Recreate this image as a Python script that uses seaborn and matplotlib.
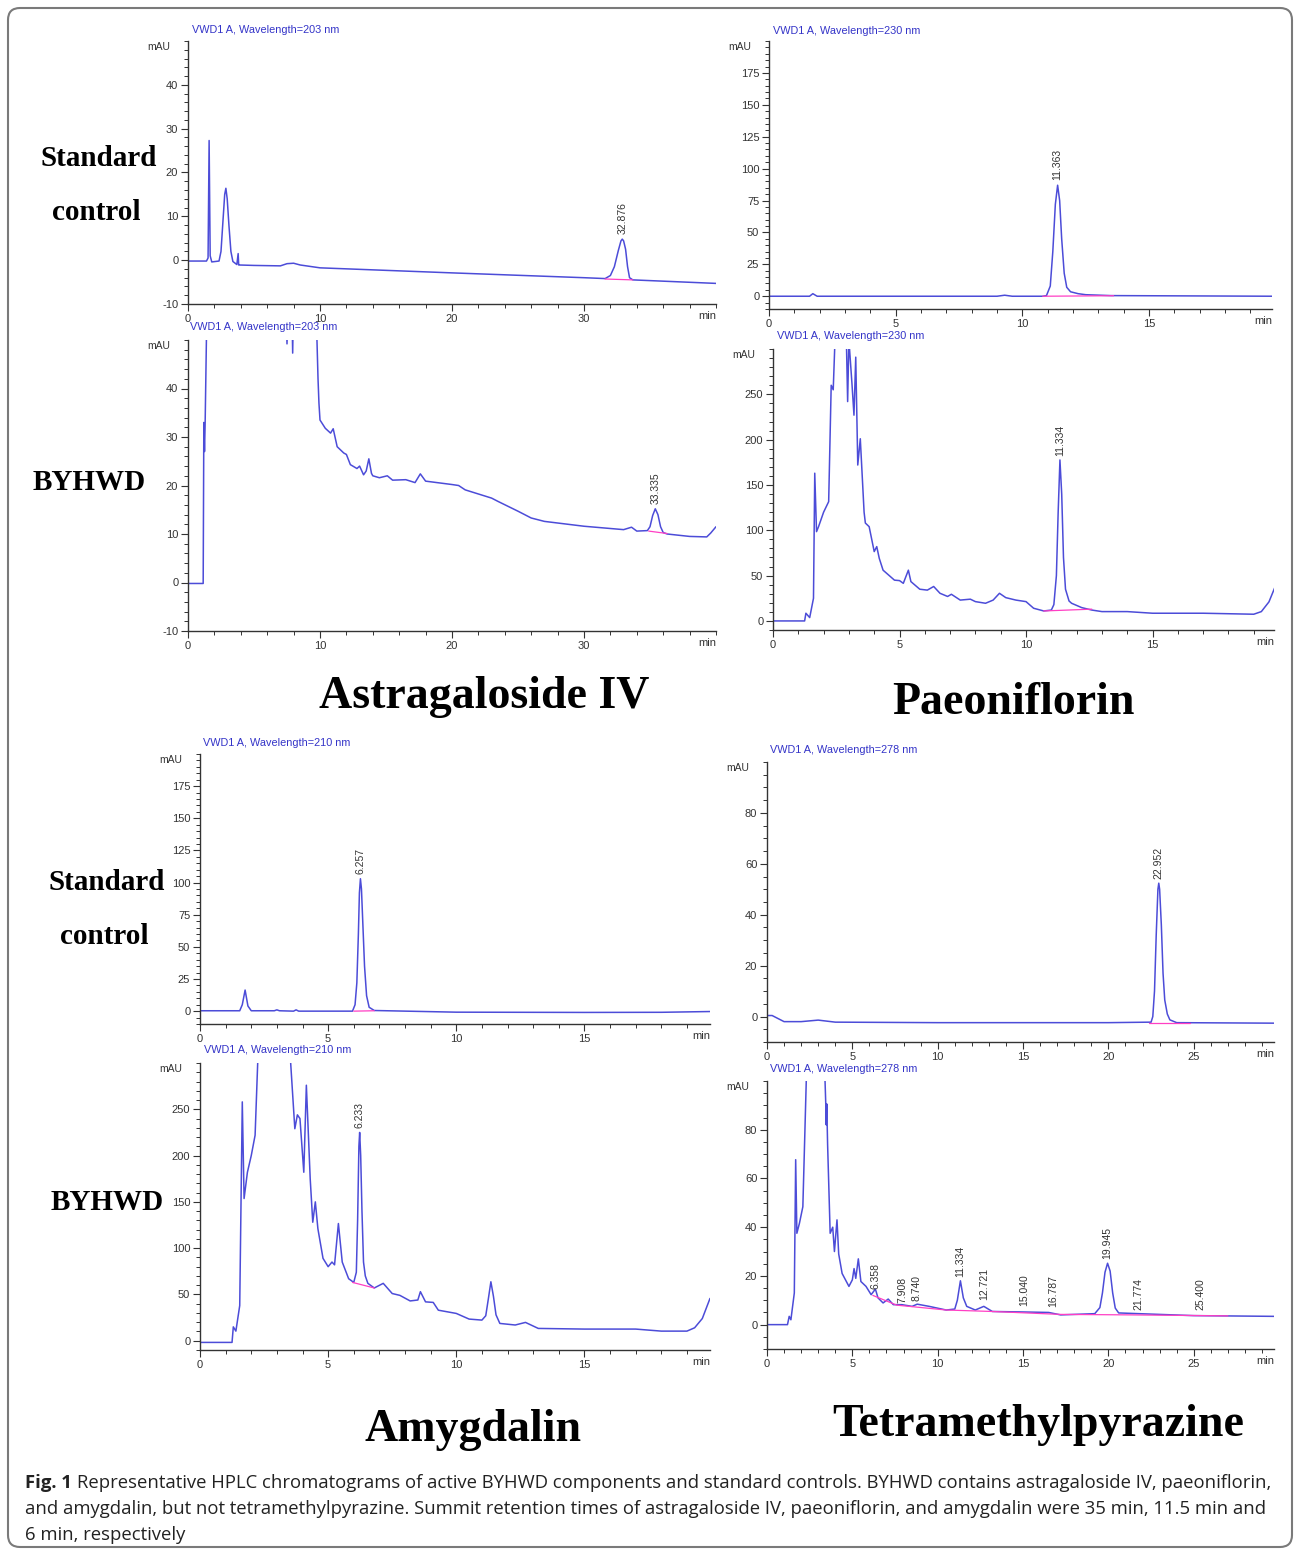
import numpy as np
import pandas as pd
import matplotlib
matplotlib.use("Agg")
import matplotlib.pyplot as plt
import seaborn as sns
from matplotlib.patches import FancyBboxPatch
from matplotlib.ticker import MultipleLocator

# ---- traced chromatogram data (time in min, signal in mAU) ----
# Astragaloside IV, standard
ast_std_t = [0, 1.4, 1.52, 1.6, 1.68, 1.8, 2.35, 2.5, 2.65, 2.78, 2.87, 2.97, 3.1, 3.25, 3.4, 3.7,
             3.8, 3.84, 3.88, 5.0, 7.0, 7.5, 8.0, 8.5, 10, 20, 30, 31.6, 32.0, 32.3, 32.6, 32.8,
             32.9, 33.0, 33.15, 33.3, 33.45, 33.7, 40]
ast_std_y = [-0.2, -0.2, 0.5, 27.3, 1.0, -0.4, -0.2, 2, 9, 15, 16.4, 14, 8, 2, -0.3, -1.0,
             1.5, -1.1, -1.1, -1.2, -1.3, -0.8, -0.7, -1.1, -1.75, -2.9, -4.0, -4.2, -3.5, -1.5, 2.2, 4.4,
             4.8, 4.4, 2.5, -1.5, -4.0, -4.5, -5.3]
# Astragaloside IV, BYHWD
ast_s_t = [0, 1.15, 1.2, 1.25, 1.3, 1.45, 7.4, 7.5, 7.6, 7.85, 7.93, 8.0, 9.77, 9.85, 9.92, 10.0, 10.4,
           10.8, 11.0, 11.3, 11.8, 12.0, 12.3, 12.8, 13.0, 13.3, 13.5, 13.7, 13.9, 14.0, 14.5, 15.1, 15.5,
           16.5, 17.2, 17.6, 18.0, 20.0, 20.5, 21.0, 23.0, 23.5, 25.0, 26.0, 27.0, 30.0, 33.0, 33.6, 34.0,
           34.8, 35.0, 35.2, 35.4, 35.6, 35.8, 36.0, 36.3, 38.0, 39.3, 39.6, 40.0]
ast_s_y = [-0.2, -0.2, 33, 27, 33, 60, 60, 49.2, 60, 60, 47.3, 60, 50, 42, 37, 33.5, 31.8,
           30.8, 31.7, 28, 26.7, 26.4, 24.3, 23.5, 24, 22.2, 23, 25.5, 22.5, 22, 21.6, 22, 21.1,
           21.2, 20.6, 22.4, 20.9, 20.2, 20, 19.1, 17.4, 16.7, 14.7, 13.3, 12.6, 11.6, 10.9, 11.4, 10.6,
           10.7, 11.5, 13.8, 15.2, 14.0, 11.5, 10.3, 10, 9.5, 9.4, 10.2, 11.5]
# Paeoniflorin, standard
pae_std_t = [0, 1.6, 1.73, 1.9, 9.0, 9.3, 9.6, 10.8, 10.95, 11.1, 11.2, 11.3, 11.39, 11.47, 11.55,
             11.65, 11.75, 11.9, 12.2, 12.5, 13.5, 20]
pae_std_y = [0, 0, 2, 0, 0, 0.8, 0, 0, 0.5, 8, 35, 72, 87, 75, 45,
             18, 7, 3.5, 2, 1.2, 0.5, 0]
# Paeoniflorin, BYHWD
pae_s_t = [0, 1.25, 1.3, 1.45, 1.6, 1.65, 1.72, 1.8, 2.0, 2.2, 2.3, 2.38, 2.45, 2.9, 2.95, 3.0, 3.05,
           3.12, 3.2, 3.27, 3.35, 3.45, 3.6, 3.65, 3.8, 4.0, 4.1, 4.2, 4.35, 4.8, 5.0, 5.15, 5.35, 5.45,
           5.8, 6.1, 6.35, 6.6, 6.9, 7.05, 7.4, 7.8, 8.0, 8.4, 8.7, 8.95, 9.2, 9.6, 10.0, 10.3, 10.7,
           11.0, 11.1, 11.2, 11.27, 11.34, 11.41, 11.48, 11.56, 11.7, 11.8, 12.2, 12.6, 13.0, 14.0,
           15.0, 17.0, 19.0, 19.3, 19.6, 19.9]
pae_s_y = [0, 0, 8.5, 3.7, 25, 163, 98.5, 104, 120, 131.6, 260, 255, 310, 310, 242, 310, 290,
           262, 227, 291, 172, 201, 120, 108, 104, 76.5, 82, 69, 56, 45, 44.5, 41.5, 56, 43.4,
           35, 34, 38, 30.5, 27, 29.4, 23, 24, 21.3, 19.5, 23, 30.5, 25.7, 23, 21.3, 14, 11,
           12, 18, 50, 120, 177.6, 140, 70, 35, 22, 19.5, 14.7, 12, 10.3, 10.3,
           8.5, 8.5, 7.4, 10.3, 21, 41.5]
# Amygdalin, standard
amy_std_t = [0, 1.55, 1.65, 1.76, 1.87, 2.0, 2.9, 3.0, 3.1, 3.65, 3.75, 3.85, 5.95, 6.05, 6.12, 6.18,
             6.22, 6.26, 6.30, 6.36, 6.42, 6.5, 6.6, 6.8, 10, 15, 18, 19.9]
amy_std_y = [0.3, 0.3, 5, 16.4, 4, 0.3, 0.3, 1.0, 0.3, 0, 1.0, 0, 0, 5, 22, 60,
             92, 103, 95, 65, 35, 12, 3, 0.5, -0.8, -1, -0.9, -0.3]
# Amygdalin, BYHWD
amy_s_t = [0, 1.25, 1.3, 1.4, 1.55, 1.65, 1.72, 1.85, 2.0, 2.15, 2.25, 2.3, 3.5, 3.54, 3.7, 3.8, 3.9,
           4.05, 4.15, 4.3, 4.4, 4.5, 4.6, 4.8, 5.0, 5.15, 5.25, 5.4, 5.55, 5.8, 6.0, 6.1, 6.15, 6.2,
           6.23, 6.27, 6.32, 6.38, 6.45, 6.55, 6.8, 7.15, 7.5, 7.8, 8.2, 8.5, 8.6, 8.8, 9.1, 9.3, 10.0,
           10.5, 11.0, 11.15, 11.25, 11.35, 11.45, 11.55, 11.7, 12.3, 12.7, 13.2, 15.0, 17.0, 18.0,
           19.0, 19.3, 19.6, 19.9]
amy_s_y = [-1.8, -1.8, 15, 10.4, 38, 258, 153.6, 182, 200, 222, 299, 330, 330, 299, 229, 244, 240,
           182, 276, 175, 128, 150, 121, 89, 80, 85, 82, 126.6, 85, 67, 63, 74, 130, 210,
           225, 200, 140, 85, 70, 62, 57, 62, 51, 49, 43, 44, 53, 42, 41.4, 33, 29.5,
           23.4, 22.3, 27, 45, 63.7, 48, 28, 18.7, 17, 19.8, 13.3, 12.6, 12.6, 10.4,
           10.4, 14, 24, 45.7]
# Tetramethylpyrazine, standard
tmp_std_t = [0, 0.3, 1.0, 2.0, 3.0, 4.0, 10, 20, 22.5, 22.6, 22.7, 22.8, 22.9, 22.95, 23.0, 23.1,
             23.2, 23.3, 23.45, 23.6, 24, 29.7]
tmp_std_y = [0.4, 0.4, -2, -2, -1.4, -2.2, -2.4, -2.4, -2.2, 0, 10, 32, 50, 52.4, 50, 36,
             17, 6.5, 1, -1.3, -2.4, -2.6]
# Tetramethylpyrazine, BYHWD
tmp_s_t = [0, 1.2, 1.3, 1.4, 1.6, 1.68, 1.75, 1.9, 2.1, 2.3, 2.35, 3.35, 3.4, 3.45, 3.47, 3.5, 3.55,
           3.7, 3.85, 3.95, 4.1, 4.2, 4.4, 4.8, 5.0, 5.1, 5.2, 5.35, 5.5, 5.8, 6.1, 6.35, 6.5, 6.8,
           7.1, 7.4, 7.9, 8.5, 8.8, 9.5, 10.5, 11.0, 11.15, 11.33, 11.5, 11.7, 12.2, 12.7, 13.2, 15,
           16.5, 17.2, 19.2, 19.5, 19.65, 19.8, 19.95, 20.1, 20.25, 20.4, 20.6, 25, 29.7]
tmp_s_y = [0, 0, 3.4, 2, 13, 67.7, 37.5, 41.6, 48.4, 100, 110, 110, 100, 89, 82, 90.6, 74,
           37.5, 40, 30, 43, 29, 21, 15.7, 18.4, 23, 19, 27, 17.7, 15.7, 12.3, 14.6, 11, 8.9,
           10.5, 8.2, 8.2, 7.5, 8.4, 7.5, 6, 6.4, 10, 18, 11, 7.5, 6, 7.5, 5.4, 5.2,
           5, 4, 4.5, 7, 13, 21.5, 25.2, 22, 13, 6.8, 4.8, 3.7, 3.4]

# integration baselines (magenta)
ast_std_base = ([31.6, 33.7], [-4.3, -4.5])
ast_s_base = ([34.9, 36.3], [10.6, 10.1])
pae_std_base = ([10.8, 13.6], [0.0, 0.4])
pae_s_base = ([10.7, 12.6], [11.0, 13.0])
amy_std_base = ([6.0, 6.8], [0.0, 0.3])
amy_s_base = ([5.95, 6.8], [63, 57])
tmp_std_base = ([22.4, 24.8], [-2.4, -2.4])
tmp_s_base = ([6.2, 7.6, 10.5, 13.2, 17.2, 21.3, 27.0], [12.0, 8.0, 6.0, 5.4, 4.2, 4.0, 3.6])

# peak labels: (time, label y, text)
ast_std_peaks = [(32.9, 6.0, "32.876")]
ast_s_peaks = [(35.4, 16.2, "33.335")]
pae_std_peaks = [(11.39, 91, "11.363")]
pae_s_peaks = [(11.37, 182, "11.334")]
amy_std_peaks = [(6.26, 107, "6.257")]
amy_s_peaks = [(6.23, 230, "6.233")]
tmp_std_peaks = [(22.95, 54, "22.952")]
tmp_s_peaks = [(6.36, 14.5, "6.358"), (7.91, 9.0, "7.908"), (8.74, 9.5, "8.740"),
               (11.33, 19.5, "11.334"), (12.72, 10.2, "12.721"), (15.04, 7.5, "15.040"),
               (16.79, 7.2, "16.787"), (19.95, 26.8, "19.945"), (21.77, 6.1, "21.774"),
               (25.4, 5.9, "25.400")]

W, H = 1295, 1552
TRACE = '#4c4cd8'
HEAD = '#3434c8'
BASE = '#ff3fc4'

sns.set_style("white")
plt.rcParams['font.family'] = ['Liberation Sans', 'DejaVu Sans']
plt.rcParams['axes.unicode_minus'] = False

fig = plt.figure(figsize=(W / 100, H / 100), dpi=100)


def draw_panel(rect, t, y, base, peaks, xlim, xmaj, xstep, ylim, ymaj, ystep, header):
    l, top, r, b = rect
    ax = fig.add_axes([l / W, 1 - b / H, (r - l) / W, (b - top) / H])
    ax.set_facecolor('none')
    df = pd.DataFrame({'t': t, 'y': y})
    sns.lineplot(data=df, x='t', y='y', ax=ax, color=TRACE, linewidth=1.1,
                 estimator=None, sort=False)
    sns.lineplot(x=base[0], y=base[1], ax=ax, color=BASE, linewidth=0.9,
                 estimator=None, sort=False)
    for pt, py, lab in peaks:
        ax.text(pt, py, lab, rotation=90, ha='center', va='bottom', fontsize=7.5,
                color='#333333')
    ax.set_xlim(*xlim)
    ax.set_ylim(*ylim)
    ax.set_xticks(xmaj)
    ax.set_yticks(ymaj)
    ax.xaxis.set_minor_locator(MultipleLocator(xstep))
    ax.yaxis.set_minor_locator(MultipleLocator(ystep))
    ax.tick_params(which='major', direction='out', length=5, width=0.8, color='#333333',
                   labelsize=8, labelcolor='#333333', pad=2)
    ax.tick_params(which='minor', direction='out', length=3, width=0.7, color='#333333')
    ax.tick_params(axis='x', which='both', bottom=True)
    ax.tick_params(axis='y', which='both', left=True)
    ax.set_xlabel('')
    ax.set_ylabel('')
    for s in ['top', 'right']:
        ax.spines[s].set_visible(False)
    for s in ['left', 'bottom']:
        ax.spines[s].set_color('#333333')
        ax.spines[s].set_linewidth(1.0)
    fig.text((l - 18) / W, 1 - (top + 6) / H, 'mAU', ha='right', va='center', fontsize=7.5,
             color='#333333')
    fig.text(r / W, 1 - (b + 12) / H, 'min', ha='right', va='center', fontsize=8,
             color='#333333')
    fig.text(header[0] / W, 1 - header[1] / H, header[2], ha='left', va='center',
             fontsize=7.8, color=HEAD)
    return ax


draw_panel((188, 41, 716, 304), ast_std_t, ast_std_y, ast_std_base, ast_std_peaks,
           (0, 40), [0, 10, 20, 30], 2, (-10, 50), [-10, 0, 10, 20, 30, 40], 2,
           (192, 30, 'VWD1 A, Wavelength=203 nm'))
draw_panel((188, 340, 716, 631), ast_s_t, ast_s_y, ast_s_base, ast_s_peaks,
           (0, 40), [0, 10, 20, 30], 2, (-10, 50), [-10, 0, 10, 20, 30, 40], 2,
           (190, 327, 'VWD1 A, Wavelength=203 nm'))
draw_panel((769, 41, 1272, 309), pae_std_t, pae_std_y, pae_std_base, pae_std_peaks,
           (0, 19.85), [0, 5, 10, 15], 1, (-10, 200), [0, 25, 50, 75, 100, 125, 150, 175], 5,
           (773, 31, 'VWD1 A, Wavelength=230 nm'))
draw_panel((773, 349, 1274, 630), pae_s_t, pae_s_y, pae_s_base, pae_s_peaks,
           (0, 19.8), [0, 5, 10, 15], 1, (-10, 300), [0, 50, 100, 150, 200, 250], 10,
           (777, 336, 'VWD1 A, Wavelength=230 nm'))
draw_panel((200, 754, 710, 1024), amy_std_t, amy_std_y, amy_std_base, amy_std_peaks,
           (0, 19.9), [0, 5, 10, 15], 1, (-10, 200), [0, 25, 50, 75, 100, 125, 150, 175], 5,
           (203, 743, 'VWD1 A, Wavelength=210 nm'))
draw_panel((200, 1063, 710, 1350), amy_s_t, amy_s_y, amy_s_base, amy_s_peaks,
           (0, 19.9), [0, 5, 10, 15], 1, (-10, 300), [0, 50, 100, 150, 200, 250], 10,
           (204, 1050, 'VWD1 A, Wavelength=210 nm'))
draw_panel((767, 762, 1274, 1042), tmp_std_t, tmp_std_y, tmp_std_base, tmp_std_peaks,
           (0, 29.7), [0, 5, 10, 15, 20, 25], 1, (-10, 100), [0, 20, 40, 60, 80], 5,
           (770, 750, 'VWD1 A, Wavelength=278 nm'))
draw_panel((767, 1081, 1274, 1349), tmp_s_t, tmp_s_y, tmp_s_base, tmp_s_peaks,
           (0, 29.7), [0, 5, 10, 15, 20, 25], 1, (-10, 100), [0, 20, 40, 60, 80], 5,
           (770, 1069, 'VWD1 A, Wavelength=278 nm'))

serif = ['Liberation Serif', 'DejaVu Serif']


def ftext(x, y, s, size, **kw):
    return fig.text(x / W, 1 - y / H, s, ha='center', va='center', fontsize=size,
                    family=serif, fontweight='bold', color='black', **kw)


ftext(99, 158, 'Standard', 21)
ftext(96, 212, 'control', 21)
ftext(89, 483, 'BYHWD', 21)
ftext(107, 882, 'Standard', 21)
ftext(104, 937, 'control', 21)
ftext(107, 1202, 'BYHWD', 21)

ftext(484, 697, 'Astragaloside IV', 33)
ftext(1013, 703, 'Paeoniflorin', 33)
ftext(473, 1430, 'Amygdalin', 33)
ftext(1038, 1425, 'Tetramethylpyrazine', 33)

# caption
cap_fs = 13.3
cap_font = ['Open Sans', 'DejaVu Sans']
t1 = fig.text(25 / W, 1 - 1483 / H, 'Fig. 1', ha='left', va='center', fontsize=cap_fs,
              family=cap_font, fontweight='bold', color='#222222')
fig.canvas.draw()
bb = t1.get_window_extent()
fig.text((bb.x1 + 5) / W, 1 - 1483 / H,
         'Representative HPLC chromatograms of active BYHWD components and standard controls. '
         'BYHWD contains astragaloside IV, paeoniflorin,',
         ha='left', va='center', fontsize=cap_fs, family=cap_font, color='#222222')
fig.text(25 / W, 1 - 1509 / H,
         'and amygdalin, but not tetramethylpyrazine. Summit retention times of astragaloside IV, '
         'paeoniflorin, and amygdalin were 35 min, 11.5 min and',
         ha='left', va='center', fontsize=cap_fs, family=cap_font, color='#222222')
fig.text(25 / W, 1 - 1535 / H, '6 min, respectively', ha='left', va='center',
         fontsize=cap_fs, family=cap_font, color='#222222')

box = FancyBboxPatch((0.08, 0.05), 12.84, 15.39, boxstyle='round,pad=0,rounding_size=0.12',
                     transform=fig.dpi_scale_trans, facecolor='none', edgecolor='#7a7a7a',
                     linewidth=1.5)
fig.add_artist(box)

fig.savefig('out.png', dpi=100)
